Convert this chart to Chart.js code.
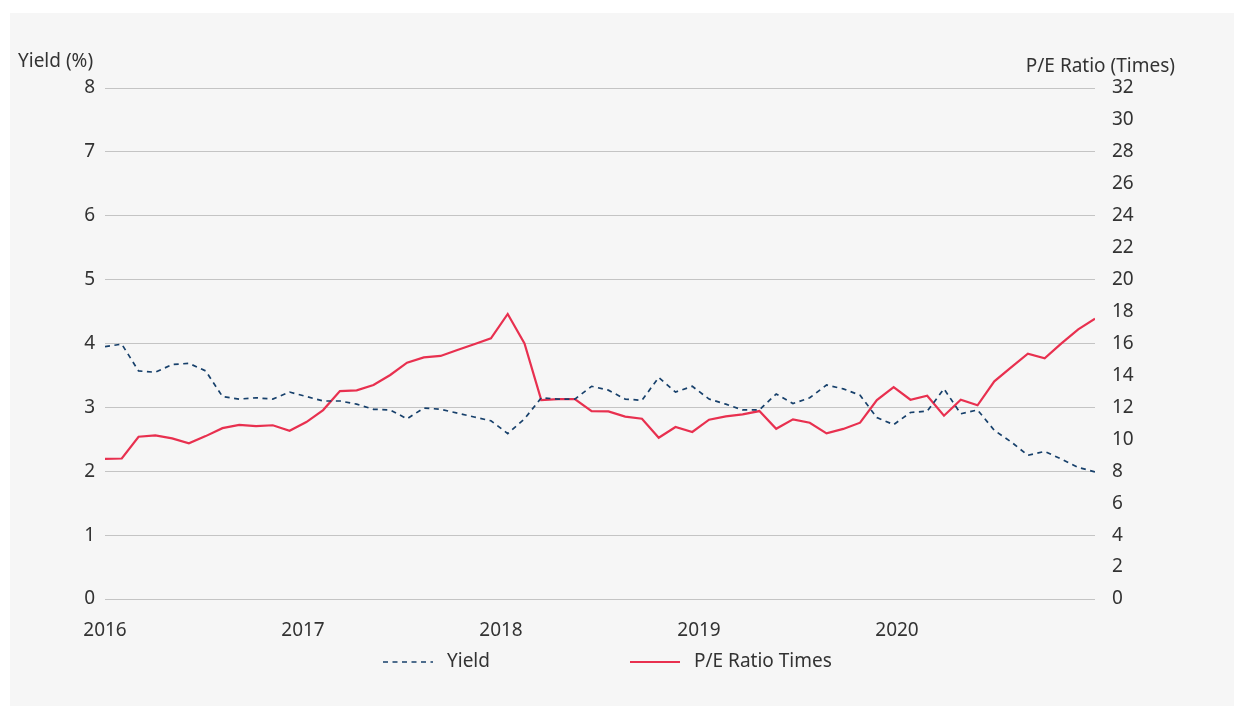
<!DOCTYPE html>
<html>
<head>
<meta charset="utf-8">
<script src="https://cdn.jsdelivr.net/npm/chart.js@4"></script>
<style>
  body { margin: 0; background: #fff; }
  #panel { position: absolute; left: 10px; top: 13px; width: 1224px; height: 693px; background: #f6f6f6; }
  #chart { position: absolute; left: 0; top: 0; }
</style>
</head>
<body>
<div id="panel"></div>
<canvas id="chart" width="1244" height="706"></canvas>
<script>
// DATA (monthly, Jan 2016 - Dec 2020)
const yearLabels = ['2016', '2017', '2018', '2019', '2020']

const yieldData = [
  3.95, 3.99, 3.57, 3.55, 3.67, 3.69, 3.57, 3.17, 3.13, 3.15, 3.13, 3.24,
  3.17, 3.10, 3.10, 3.05, 2.97, 2.96, 2.82, 2.99, 2.97, 2.91, 2.85, 2.79,
  2.59, 2.82, 3.15, 3.13, 3.13, 3.33, 3.27, 3.13, 3.11, 3.47, 3.24, 3.33,
  3.13, 3.05, 2.96, 2.96, 3.21, 3.06, 3.15, 3.35, 3.29, 3.19, 2.84, 2.73,
  2.92, 2.94, 3.29, 2.90, 2.96, 2.64, 2.46, 2.25, 2.31, 2.19, 2.06, 1.99
]

const peData = [
  8.78, 8.80, 10.16, 10.25, 10.06, 9.75, 10.20, 10.70, 10.90, 10.83, 10.88, 10.54,
  11.08, 11.83, 13.02, 13.07, 13.40, 14.03, 14.80, 15.13, 15.22, 15.59, 15.95, 16.32,
  17.85, 16.01, 12.46, 12.52, 12.52, 11.77, 11.75, 11.42, 11.29, 10.10, 10.77, 10.46,
  11.23, 11.44, 11.56, 11.77, 10.66, 11.25, 11.04, 10.37, 10.65, 11.04, 12.46, 13.27,
  12.48, 12.73, 11.48, 12.48, 12.13, 13.63, 14.51, 15.36, 15.07, 16.01, 16.89, 17.55
]

const textColor = '#333333'
Chart.defaults.font.family = "'Noto Sans', sans-serif"
Chart.defaults.font.size = 19
Chart.defaults.color = textColor

// axis titles + legend drawn on the canvas
const extras = {
  id: 'extras',
  afterDraw(chart) {
    const c = chart.ctx
    c.save()
    c.fillStyle = textColor
    c.font = "19px 'Noto Sans', sans-serif"
    c.textBaseline = 'middle'
    c.textAlign = 'left'
    c.fillText('Yield (%)', 18, 62)
    c.textAlign = 'right'
    c.fillText('P/E Ratio (Times)', 1175, 67)

    // legend
    const items = [{x: 383}, {x: 630}]
    chart.data.datasets.forEach((ds, i) => {
      const x = items[i].x, y = 662
      c.strokeStyle = ds.borderColor
      c.lineWidth = ds.borderWidth
      c.setLineDash(ds.borderDash || [])
      c.beginPath()
      c.moveTo(x, y)
      c.lineTo(x + 50, y)
      c.stroke()
      c.setLineDash([])
      c.textAlign = 'left'
      c.fillText(ds.label, x + 64, y)
    })
    c.restore()
  }
}

const ctx = document.getElementById('chart').getContext('2d')

new Chart(ctx, {
  type: 'line',
  data: {
    datasets: [
      {
        label: 'Yield',
        data: yieldData.map((v, i) => ({x: i, y: v})),
        borderColor: '#17406b',
        borderWidth: 1.7,
        borderDash: [5, 4.5],
        pointRadius: 0,
        tension: 0,
        yAxisID: 'y'
      },
      {
        label: 'P/E Ratio Times',
        data: peData.map((v, i) => ({x: i, y: v})),
        borderColor: '#e8304f',
        borderWidth: 2.2,
        pointRadius: 0,
        tension: 0,
        yAxisID: 'y1'
      }
    ]
  },
  options: {
    responsive: false,
    animation: false,
    layout: { padding: { top: 88, left: 0, right: 0, bottom: 0 } },
    plugins: {
      legend: { display: false },
      tooltip: { enabled: false }
    },
    scales: {
      x: {
        type: 'linear',
        min: 0,
        max: yieldData.length - 1,
        grid: { display: false },
        border: { display: false },
        afterFit: (scale) => { scale.height = 107 },
        afterBuildTicks: (scale) => {
          const step = (yieldData.length - 1) / yearLabels.length
          scale.ticks = yearLabels.map((_, k) => ({ value: k * step }))
        },
        ticks: {
          padding: 12,
          maxRotation: 0,
          autoSkip: false,
          callback: (value, index) => yearLabels[index]
        }
      },
      y: {
        position: 'left',
        min: 0,
        max: 8,
        afterFit: (scale) => { scale.width = 105 },
        grid: { color: '#c4c4c4', lineWidth: 1, drawTicks: false },
        border: { display: false },
        ticks: { stepSize: 1, padding: 10 }
      },
      y1: {
        position: 'right',
        min: 0,
        max: 32,
        afterFit: (scale) => { scale.width = 149 },
        grid: { display: false },
        border: { display: false },
        ticks: { stepSize: 2, padding: 9 }
      }
    }
  },
  plugins: [extras]
})
</script>
</body>
</html>
